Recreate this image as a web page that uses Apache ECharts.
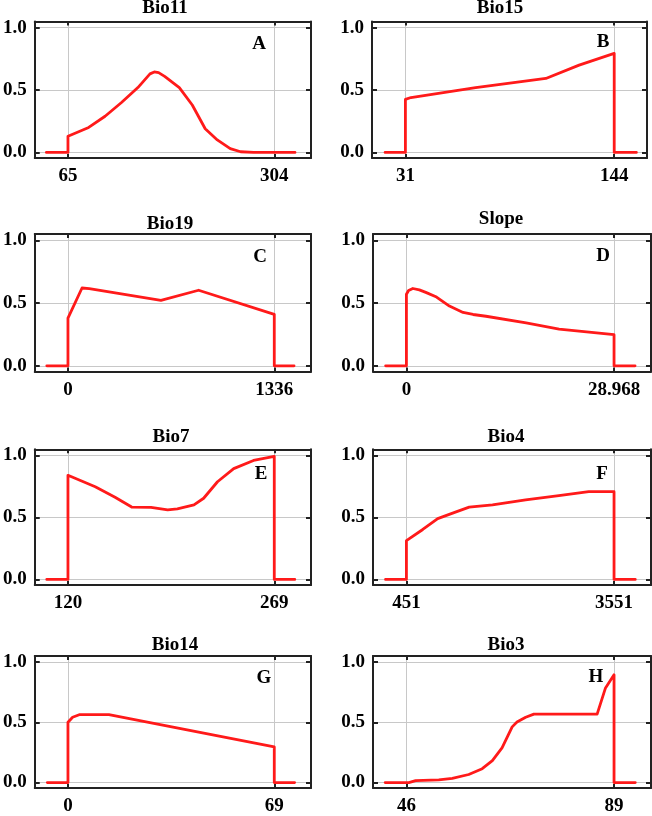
<!DOCTYPE html>
<html>
<head>
<meta charset="utf-8">
<script src="https://cdn.jsdelivr.net/npm/echarts@6/dist/echarts.min.js"></script>
<style>
  html, body { margin: 0; padding: 0; background: #fff; }
  #chart { width: 652px; height: 816px; }
</style>
</head>
<body>
<div id="chart"></div>
<script>
// ---- data ----
const panelTitles = ['Bio11', 'Bio15', 'Bio19', 'Slope', 'Bio7', 'Bio4', 'Bio14', 'Bio3'];
const panelLetters = ['A', 'B', 'C', 'D', 'E', 'F', 'G', 'H'];
const tickMin = [65, 31, 0, 0, 120, 451, 0, 46];
const tickMax = [304, 144, 1336, 28.968, 269, 3551, 69, 89];
const yTicks = [0, 0.5, 1.0];

const bio11X = [40, 65, 65, 89, 108, 127, 146, 160, 165, 170, 177, 194, 209, 224, 238, 253, 265, 280, 304, 328];
const bio11Y = [0, 0, 0.13, 0.20, 0.29, 0.40, 0.52, 0.63, 0.645, 0.64, 0.61, 0.52, 0.38, 0.19, 0.10, 0.03, 0.005, 0, 0, 0];

const bio15X = [20, 31, 31, 34, 69, 107, 125, 144, 144, 156];
const bio15Y = [0, 0, 0.425, 0.44, 0.52, 0.593, 0.70, 0.794, 0, 0];

const bio19X = [-137, 0, 0, 91, 138, 602, 846, 1336, 1336, 1464];
const bio19Y = [0, 0, 0.38, 0.62, 0.615, 0.522, 0.602, 0.41, 0, 0];

const slopeX = [-2.9, 0, 0, 0.3, 0.9, 1.8, 2.7, 4.2, 6.0, 7.9, 9.3, 11.1, 16.7, 21.3, 28.968, 28.968, 31.9];
const slopeY = [0, 0, 0.57, 0.60, 0.616, 0.605, 0.585, 0.548, 0.476, 0.425, 0.409, 0.395, 0.342, 0.293, 0.248, 0, 0];

const bio7X = [104.7, 120, 120, 139.7, 154, 166, 180, 192, 199, 211, 218, 228, 239.7, 254, 269, 269, 283.8];
const bio7Y = [0, 0, 0.84, 0.748, 0.663, 0.584, 0.581, 0.562, 0.57, 0.602, 0.655, 0.788, 0.894, 0.96, 0.992, 0, 0];

const bio4X = [139, 451, 451, 695, 918, 1141, 1388, 1736, 2231, 2727, 3173, 3551, 3551, 3868];
const bio4Y = [0, 0, 0.313, 0.403, 0.491, 0.535, 0.583, 0.602, 0.642, 0.676, 0.708, 0.708, 0, 0];

const bio14X = [-6.9, 0, 0, 1.55, 3.76, 13.7, 69, 69, 75.8];
const bio14Y = [0, 0, 0.50, 0.542, 0.563, 0.563, 0.296, 0, 0];

const bio3X = [41.6, 46, 46.5, 47.9, 52.7, 55.5, 58.9, 61.7, 63.8, 65.8, 67.9, 68.9, 70.7, 72.4, 85.5, 87.2, 89, 89, 93.4];
const bio3Y = [0, 0, 0, 0.016, 0.022, 0.035, 0.067, 0.115, 0.182, 0.288, 0.462, 0.502, 0.542, 0.568, 0.568, 0.782, 0.894, 0, 0];

const seriesX = [bio11X, bio15X, bio19X, slopeX, bio7X, bio4X, bio14X, bio3X];
const seriesY = [bio11Y, bio15Y, bio19Y, slopeY, bio7Y, bio4Y, bio14Y, bio3Y];

// ---- layout (positions / styles) ----
const gridBoxes = [
  {left: 32, top: 21.5, width: 279, height: 136.5},
  {left: 372, top: 21.5, width: 275, height: 136.5},
  {left: 32, top: 234, width: 279, height: 137.5},
  {left: 373, top: 234, width: 278, height: 137.5},
  {left: 32, top: 449.3, width: 279, height: 135.7},
  {left: 373, top: 449.3, width: 278, height: 135.7},
  {left: 32, top: 656, width: 279, height: 136.7},
  {left: 373, top: 656, width: 278, height: 136.7}
];
const padL = [0.161, 0.160, 0.161, 0.161, 0.161, 0.161, 0.161, 0.161];
const padR = [0.178, 0.157, 0.178, 0.178, 0.178, 0.178, 0.178, 0.178];
const titlePos = [[165, 8], [500, 8], [170, 224], [501, 219], [171, 437], [506, 437], [175, 645], [506, 645]];
const letterPos = [[259, 44], [603, 42], [260, 257], [603, 256], [261, 474], [602, 474], [264, 678], [596, 677]];

const FONT = '"Liberation Serif", "Times New Roman", serif';
const FS = 19;
const Y_MIN = -0.045, Y_MAX = 1.05;
const BOX = '#222';
const GRIDC = '#c8c8c8';

const option = {
  animation: false,
  backgroundColor: '#fff',
  grid: [], xAxis: [], yAxis: [], series: [], title: []
};

for (let i = 0; i < 8; i++) {
  const g = gridBoxes[i];
  option.grid.push({left: g.left, top: g.top, width: g.width, height: g.height, containLabel: false});
  const range = tickMax[i] - tickMin[i];
  const xmin = tickMin[i] - padL[i] * range;
  const xmax = tickMax[i] + padR[i] * range;
  const xv = [tickMin[i], tickMax[i]];
  const common = {type: 'value', gridIndex: i, min: xmin, max: xmax};
  option.xAxis.push(Object.assign({}, common, {
    position: 'bottom',
    axisLine: {show: true, onZero: false, lineStyle: {color: BOX, width: 2}},
    axisTick: {show: true, inside: true, length: 4, customValues: xv, lineStyle: {color: BOX, width: 2}},
    axisLabel: {show: true, customValues: xv, margin: 9, color: '#000', fontFamily: FONT, fontWeight: 'bold', fontSize: FS,
      formatter: v => String(v)},
    splitLine: {show: true, lineStyle: {color: GRIDC, width: 1}}
  }));
  option.xAxis.push(Object.assign({}, common, {
    position: 'top',
    axisLine: {show: true, onZero: false, lineStyle: {color: BOX, width: 2}},
    axisTick: {show: true, inside: true, length: 4, customValues: xv, lineStyle: {color: BOX, width: 2}},
    axisLabel: {show: false},
    splitLine: {show: false}
  }));
  const ycommon = {type: 'value', gridIndex: i, min: Y_MIN, max: Y_MAX};
  option.yAxis.push(Object.assign({}, ycommon, {
    position: 'left',
    axisLine: {show: true, onZero: false, lineStyle: {color: BOX, width: 2}},
    axisTick: {show: true, inside: true, length: 5, customValues: yTicks, lineStyle: {color: BOX, width: 2}},
    axisLabel: {show: true, customValues: yTicks, margin: 8, color: '#000', fontFamily: FONT, fontWeight: 'bold', fontSize: FS,
      formatter: v => Number(v).toFixed(1)},
    splitLine: {show: true, lineStyle: {color: GRIDC, width: 1}}
  }));
  option.yAxis.push(Object.assign({}, ycommon, {
    position: 'right',
    axisLine: {show: true, onZero: false, lineStyle: {color: BOX, width: 2}},
    axisTick: {show: true, inside: true, length: 5, customValues: yTicks, lineStyle: {color: BOX, width: 2}},
    axisLabel: {show: false},
    splitLine: {show: false}
  }));
  option.series.push({
    type: 'line',
    name: panelTitles[i],
    xAxisIndex: 2 * i,
    yAxisIndex: 2 * i,
    showSymbol: false,
    symbol: 'none',
    data: seriesX[i].map((x, j) => [x, seriesY[i][j]]),
    lineStyle: {color: '#ff1a1a', width: 2.8, join: 'round', cap: 'round'},
    z: 3
  });
  option.title.push({
    text: panelTitles[i], left: titlePos[i][0], top: titlePos[i][1], padding: 0,
    textAlign: 'center', textVerticalAlign: 'middle',
    textStyle: {fontFamily: FONT, fontWeight: 'bold', fontSize: FS, color: '#000'}
  });
  option.title.push({
    text: panelLetters[i], left: letterPos[i][0], top: letterPos[i][1], padding: 0,
    textAlign: 'center', textVerticalAlign: 'middle',
    textStyle: {fontFamily: FONT, fontWeight: 'bold', fontSize: FS, color: '#000'}
  });
}

const chart = echarts.init(document.getElementById('chart'), null, {renderer: 'canvas'});
chart.setOption(option);
</script>
</body>
</html>
